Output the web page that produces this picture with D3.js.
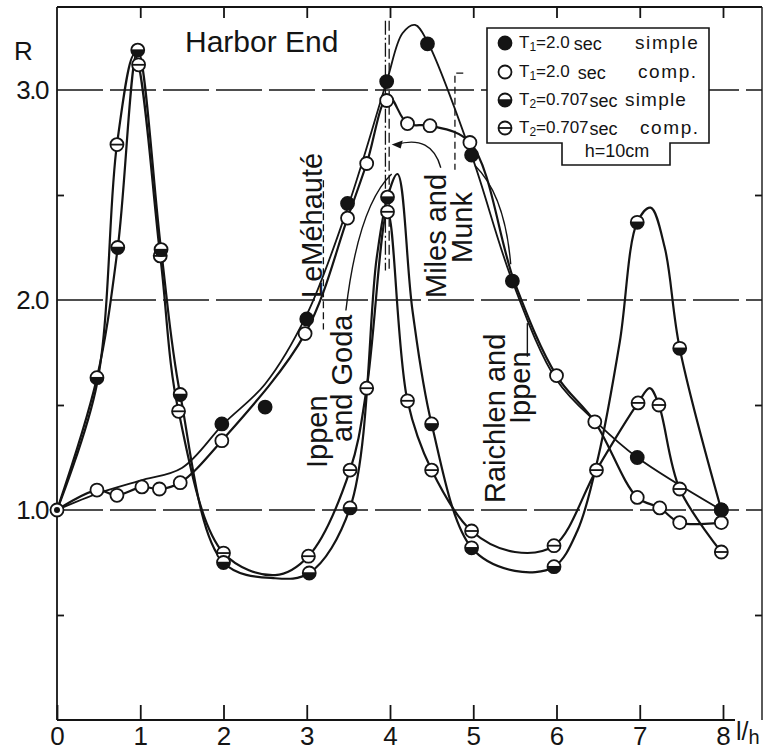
<!DOCTYPE html>
<html>
<head>
<meta charset="utf-8">
<script src="https://cdn.jsdelivr.net/npm/d3@7"></script>
<style>
  body { margin: 0; background: #fff; }
  svg { display: block; font-family: "Liberation Sans", Arial, sans-serif; }
</style>
</head>
<body>
<div id="chart"></div>
<script>
// reflection coefficient R against l/h
const xTicks = [0, 1, 2, 3, 4, 5, 6, 7, 8];
const yLabelTicks = [1, 2, 3];
const yMinorTicks = [0.5, 1.5, 2.5];

// T1 = 2.0 sec simple (filled)
const t1SimpleMarks = [[1.98, 1.41], [2.5, 1.49], [3.0, 1.91], [3.49, 2.46], [3.96, 3.04],
  [4.45, 3.22], [4.98, 2.69], [5.47, 2.09], [6.97, 1.25], [7.98, 1.0]];
const t1SimpleCurve = [[0, 1.0], [0.5, 1.08], [1.0, 1.14], [1.5, 1.2], [2.0, 1.41], [2.5, 1.6],
  [3.0, 1.93], [3.5, 2.45], [3.96, 3.04], [4.15, 3.27], [4.3, 3.31], [4.45, 3.23], [4.98, 2.69],
  [5.47, 2.09], [6.0, 1.62], [6.5, 1.41], [6.97, 1.25], [7.98, 1.0]];

// T1 = 2.0 sec comp. (open)
const t1CompMarks = [[0.48, 1.095], [0.72, 1.07], [1.02, 1.11], [1.23, 1.1], [1.48, 1.13],
  [1.98, 1.33], [2.98, 1.84], [3.49, 2.39], [3.72, 2.65], [3.96, 2.95], [4.21, 2.84],
  [4.48, 2.83], [4.96, 2.75], [6.0, 1.64], [6.46, 1.42], [6.97, 1.06], [7.24, 1.01],
  [7.48, 0.94], [7.98, 0.94]];
const t1CompCurve = [[0, 1.0], [0.48, 1.095], [0.72, 1.07], [1.02, 1.11], [1.23, 1.1],
  [1.48, 1.13], [1.98, 1.33], [2.98, 1.84], [3.49, 2.39], [3.72, 2.65], [3.98, 2.97],
  [4.21, 2.84], [4.48, 2.83], [4.96, 2.75], [5.5, 2.08], [6.0, 1.64], [6.46, 1.42],
  [6.97, 1.06], [7.24, 1.01], [7.48, 0.94], [7.98, 0.94]];

// T2 = 0.707 sec simple (half filled)
const t2SimpleMarks = [[0.48, 1.63], [0.73, 2.25], [0.97, 3.19], [1.25, 2.24], [1.48, 1.55],
  [2.0, 0.75], [3.03, 0.7], [3.52, 1.01], [3.97, 2.49], [4.5, 1.41], [4.98, 0.82],
  [5.97, 0.73], [6.97, 2.37], [7.48, 1.77], [7.98, 1.0]];
const t2SimpleCurve = [[0, 1.0], [0.48, 1.63], [0.73, 2.25], [0.97, 3.19], [1.25, 2.24],
  [1.48, 1.55], [2.0, 0.75], [2.62, 0.675], [3.03, 0.7], [3.52, 1.01], [3.84, 2.2],
  [3.97, 2.49], [4.09, 2.6], [4.27, 1.95], [4.5, 1.41], [4.98, 0.82], [5.5, 0.71],
  [5.97, 0.73], [6.25, 0.9], [6.5, 1.25], [6.76, 1.8], [6.97, 2.37], [7.13, 2.44],
  [7.3, 2.25], [7.48, 1.77], [7.98, 1.0]];

// T2 = 0.707 sec comp. (barred)
const t2CompMarks = [[0.72, 2.74], [0.98, 3.12], [1.24, 2.21], [1.46, 1.47], [2.0, 0.795],
  [3.02, 0.78], [3.52, 1.19], [3.72, 1.58], [3.97, 2.42], [4.21, 1.52], [4.5, 1.19],
  [4.98, 0.9], [5.97, 0.83], [6.48, 1.19], [6.98, 1.51], [7.23, 1.5], [7.48, 1.1], [7.98, 0.8]];
const t2CompCurve = [[0, 1.0], [0.48, 1.6], [0.72, 2.74], [0.93, 3.17], [1.24, 2.21],
  [1.46, 1.47], [2.0, 0.795], [2.62, 0.69], [3.02, 0.78], [3.52, 1.19], [3.72, 1.58],
  [3.97, 2.42], [4.21, 1.52], [4.5, 1.19], [4.98, 0.9], [5.5, 0.8], [5.97, 0.83],
  [6.48, 1.19], [6.98, 1.51], [7.12, 1.58], [7.23, 1.5], [7.48, 1.1], [7.98, 0.8]];

const legendRows = [
  { kind: 'filled', t: 'T', sub: '1', val: '=2.0', sec: 'sec', mode: 'simple' },
  { kind: 'open', t: 'T', sub: '1', val: '=2.0', sec: 'sec', mode: 'comp.' },
  { kind: 'half', t: 'T', sub: '2', val: '=0.707', sec: 'sec', mode: 'simple' },
  { kind: 'bar', t: 'T', sub: '2', val: '=0.707', sec: 'sec', mode: 'comp.' }
];

const width = 764, height = 752;
const x = d3.scaleLinear().domain([0, 8]).range([57, 723]);
const y = d3.scaleLinear().domain([0, 3.4]).range([720, 6]);
const ink = '#141414';

const svg = d3.select('#chart').append('svg')
  .attr('width', width).attr('height', height);
svg.append('rect').attr('width', width).attr('height', height).attr('fill', '#fff');

// grid lines
svg.append('g').selectAll('line').data(yLabelTicks).enter().append('line')
  .attr('x1', x(0)).attr('x2', 762)
  .attr('y1', d => y(d)).attr('y2', d => y(d))
  .attr('stroke', ink).attr('stroke-width', 1.3)
  .attr('stroke-dasharray', '46,7');

// frame
const frame = svg.append('g').attr('stroke', ink).attr('fill', 'none');
frame.append('line').attr('x1', x(0)).attr('x2', x(0)).attr('y1', 7).attr('y2', y(0)).attr('stroke-width', 1.8);
frame.append('line').attr('x1', x(0)).attr('x2', 735).attr('y1', y(0)).attr('y2', y(0)).attr('stroke-width', 1.8);
frame.append('line').attr('x1', x(0)).attr('x2', 762).attr('y1', 7).attr('y2', 7).attr('stroke-width', 1.8);
frame.append('line').attr('x1', 762).attr('x2', 762).attr('y1', 7).attr('y2', y(0)).attr('stroke-width', 1.4);

// axes
const axBottom = svg.append('g').attr('transform', `translate(0,${y(0)})`)
  .call(d3.axisBottom(x).tickValues(xTicks).tickSize(-15).tickSizeOuter(0).tickPadding(7).tickFormat(d3.format('d')));
const axTop = svg.append('g').attr('transform', 'translate(0,7)')
  .call(d3.axisTop(x).tickValues(xTicks.slice(1)).tickSize(-11).tickSizeOuter(0).tickFormat(''));
const axLeft = svg.append('g').attr('transform', `translate(${x(0)},0)`)
  .call(d3.axisLeft(y).tickValues(yLabelTicks.concat(yMinorTicks)).tickSize(-7).tickSizeOuter(0).tickPadding(9)
    .tickFormat(d => Number.isInteger(d) ? d.toFixed(1) : ''));
const axRight = svg.append('g').attr('transform', 'translate(762,0)')
  .call(d3.axisRight(y).tickValues(yMinorTicks).tickSize(-7).tickSizeOuter(0).tickFormat(''));

[axBottom, axTop, axLeft, axRight].forEach(g => {
  g.select('.domain').remove();
  g.selectAll('line').attr('stroke', ink).attr('stroke-width', 1.8);
  g.selectAll('text').attr('fill', ink).attr('font-size', 26)
    .attr('font-family', '"Liberation Sans", Arial, sans-serif');
});
axLeft.selectAll('.tick').filter(d => Number.isInteger(d)).select('line').remove();
axLeft.selectAll('text').attr('letter-spacing', -1.5);

svg.append('text').attr('x', 14).attr('y', 60).attr('font-size', 26).attr('fill', ink).text('R');

// l/h label
const lh = svg.append('text').attr('x', 736).attr('y', 740).attr('fill', ink).attr('font-size', 25);
lh.append('tspan').text('l/');
lh.append('tspan').attr('dy', 4).attr('font-size', 20).text('h');

svg.append('text').attr('x', 185).attr('y', 52).attr('font-size', 30).attr('fill', ink).text('Harbor End');

// reference marks: dash-dot verticals and dashed brackets
const refs = svg.append('g').attr('stroke', ink).attr('fill', 'none').attr('stroke-width', 1.3);
refs.append('line').attr('x1', x(3.945)).attr('x2', x(3.945)).attr('y1', y(3.33)).attr('y2', y(2.14))
  .attr('stroke-dasharray', '14,3,2,3');
refs.append('line').attr('x1', x(3.99)).attr('x2', x(3.99)).attr('y1', y(3.33)).attr('y2', y(2.14))
  .attr('stroke-dasharray', '10,4');
refs.append('line').attr('x1', x(3.2)).attr('x2', x(3.2)).attr('y1', y(2.57)).attr('y2', y(1.86))
  .attr('stroke-dasharray', '7,4');
refs.append('path').attr('d', `M${x(4.88)},${y(3.08)}H${x(4.78)}V${y(2.62)}`).attr('stroke-dasharray', '7,4');

// theory / data curves
const line = d3.line().x(d => x(d[0])).y(d => y(d[1])).curve(d3.curveCatmullRom.alpha(0.5));
const curves = svg.append('g').attr('fill', 'none').attr('stroke', ink).attr('stroke-linejoin', 'round');
curves.append('path').attr('d', line(t2SimpleCurve)).attr('stroke-width', 2.2);
curves.append('path').attr('d', line(t2CompCurve)).attr('stroke-width', 2.2);
curves.append('path').attr('d', line(t1CompCurve)).attr('stroke-width', 2.2);
curves.append('path').attr('d', line(t1SimpleCurve)).attr('stroke-width', 1.8);

// leaders and arrow
const leaders = svg.append('g').attr('fill', 'none').attr('stroke', ink).attr('stroke-width', 1.4);
const quad = (a, c, b) => {
  const p = d3.path();
  p.moveTo(x(a[0]), y(a[1]));
  p.quadraticCurveTo(x(c[0]), y(c[1]), x(b[0]), y(b[1]));
  return p.toString();
};
leaders.append('path').attr('d', quad([3.47, 1.95], [3.62, 2.45], [4.02, 2.6]));
leaders.append('path').attr('d', quad([4.61, 2.63], [4.5, 2.79], [4.07, 2.74]));
leaders.append('path').attr('d', quad([5.02, 2.64], [5.38, 2.5], [5.45, 2.17]));
leaders.append('line').attr('x1', x(5.65)).attr('x2', x(5.65)).attr('y1', y(1.73)).attr('y2', y(1.89));
svg.append('path')
  .attr('d', `M${x(4.02)},${y(2.74)}l11,-4l-2,8z`)
  .attr('fill', ink);

// markers
const R = 6.5;
function marker(g, kind, cx, cy) {
  const m = g.append('g').attr('transform', `translate(${cx},${cy})`);
  m.append('circle').attr('r', R)
    .attr('fill', kind === 'filled' ? ink : '#fff')
    .attr('stroke', ink).attr('stroke-width', 1.8);
  if (kind === 'half') {
    m.append('path').attr('d', `M${-R},0A${R},${R} 0 0 0 ${R},0Z`).attr('fill', ink);
    m.append('line').attr('x1', -R).attr('x2', R).attr('stroke', ink).attr('stroke-width', 1.5);
  }
  if (kind === 'bar') {
    m.append('line').attr('x1', -R).attr('x2', R).attr('stroke', ink).attr('stroke-width', 1.8);
  }
}
const marks = svg.append('g');
t2CompMarks.forEach(d => marker(marks, 'bar', x(d[0]), y(d[1])));
t2SimpleMarks.forEach(d => marker(marks, 'half', x(d[0]), y(d[1])));
t1CompMarks.forEach(d => marker(marks, 'open', x(d[0]), y(d[1])));
t1SimpleMarks.forEach(d => marker(marks, 'filled', x(d[0]), y(d[1])));
// common starting point
marker(marks, 'open', x(0), y(1));
marks.append('circle').attr('cx', x(0)).attr('cy', y(1)).attr('r', 3).attr('fill', ink);

// vertical annotations
function vtext(lines, size) {
  lines.forEach(l => {
    svg.append('text')
      .attr('transform', `translate(${l.x},${l.y}) rotate(-90)`)
      .attr('font-size', size).attr('fill', ink)
      .text(l.s);
  });
}
vtext([
  { s: 'LeMéhauté', x: 322, y: 298 },
  { s: 'Ippen', x: 327, y: 468 },
  { s: 'and Goda', x: 352, y: 442 },
  { s: 'Miles and', x: 446, y: 298 },
  { s: 'Munk', x: 472, y: 263 },
  { s: 'Raichlen and', x: 505, y: 503 },
  { s: 'Ippen', x: 530, y: 424 }
], 29);

// legend
const lg = svg.append('g');
lg.append('path')
  .attr('d', 'M487,28H709V143H670V165H562V143H487Z')
  .attr('fill', '#fff').attr('stroke', ink).attr('stroke-width', 1.6);
const rowY = [43, 72, 100, 128];
const modeX = [635, 638, 625, 640];
const secGap = [4, 8, 1, 1];
legendRows.forEach((r, i) => {
  marker(lg, r.kind, 505, rowY[i]);
  const t = lg.append('text').attr('x', 519).attr('y', rowY[i] + 5).attr('fill', ink).attr('font-size', 17);
  t.append('tspan').text(r.t);
  t.append('tspan').attr('font-size', 12).attr('dy', 3).text(r.sub);
  t.append('tspan').attr('dy', -3).text(r.val);
  t.append('tspan').attr('font-size', 18).attr('dx', secGap[i]).attr('dy', 2).text(r.sec);
  lg.append('text').attr('x', modeX[i]).attr('y', rowY[i] + 6).attr('fill', ink)
    .attr('font-size', 19).attr('letter-spacing', i === 2 ? 1.2 : 1.6).text(r.mode);
});
lg.append('text').attr('x', 617).attr('y', 157).attr('text-anchor', 'middle')
  .attr('fill', ink).attr('font-size', 18).text('h=10cm');
</script>
</body>
</html>
